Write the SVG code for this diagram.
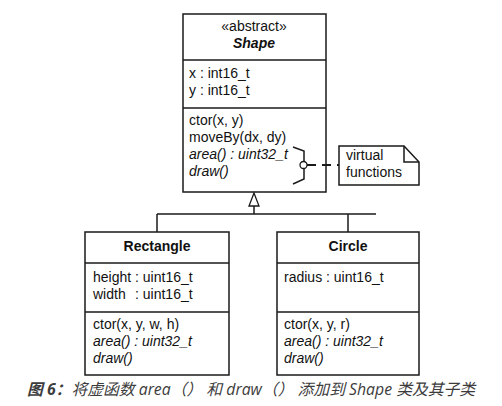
<svg xmlns="http://www.w3.org/2000/svg" width="502" height="406" viewBox="0 0 502 406">
<style>
.box{fill:#fff;stroke:#1a1a1a;stroke-width:1.5}
.ln{stroke:#1a1a1a;stroke-width:1.5;fill:none}
.dash{stroke:#1a1a1a;stroke-width:2.2;fill:none;stroke-dasharray:9,6}
text{font-family:"Liberation Sans",Arial,sans-serif;font-size:14px;fill:#111}
.c{text-anchor:middle}
.b{font-weight:bold}
.i{font-style:italic}
.cap{font-family:"Open Sans","Noto Sans CJK SC",sans-serif;font-size:15.8px;font-style:italic;fill:#3c3c3c}
</style>
<rect width="502" height="406" fill="#fff"/>
<g id="Shape">
<rect class="box" x="183" y="14" width="143" height="178"/>
<line class="ln" x1="183" y1="60" x2="326" y2="60"/>
<line class="ln" x1="183" y1="108" x2="326" y2="108"/>
<text class="c" x="254" y="31">«abstract»</text>
<text class="c b i" x="254" y="48">Shape</text>
<text x="189" y="78">x : int16_t</text>
<text x="189" y="95">y : int16_t</text>
<text x="189" y="125">ctor(x, y)</text>
<text x="189" y="142">moveBy(dx, dy)</text>
<text class="i" x="189" y="159">area() : uint32_t</text>
<text class="i" x="189" y="176">draw()</text>
<polyline class="ln" points="293,147 304,151 304,179 293,184"/>
</g>
<g id="note">
<polygon class="box" points="339,146 404,146 419,162 419,185 339,185"/>
<polyline class="ln" points="404,146 404,162 419,162"/>
<text x="346" y="160">virtual</text>
<text x="346" y="177">functions</text>
</g>
<g id="Rectangle">
<rect class="box" x="85" y="232" width="144" height="143"/>
<line class="ln" x1="85" y1="263" x2="229" y2="263"/>
<line class="ln" x1="85" y1="312" x2="229" y2="312"/>
<text class="c b" x="157" y="251">Rectangle</text>
<text x="93" y="282">height : uint16_t</text>
<text x="93" y="299">width<tspan x="135">: uint16_t</tspan></text>
<text x="93" y="329">ctor(x, y, w, h)</text>
<text class="i" x="93" y="346">area() : uint32_t</text>
<text class="i" x="93" y="363">draw()</text>
</g>
<g id="Circle">
<rect class="box" x="277" y="232" width="142" height="143"/>
<line class="ln" x1="277" y1="263" x2="419" y2="263"/>
<line class="ln" x1="277" y1="312" x2="419" y2="312"/>
<text class="c b" x="348" y="251">Circle</text>
<text x="284" y="282">radius : uint16_t</text>
<text x="284" y="329">ctor(x, y, r)</text>
<text class="i" x="284" y="346">area() : uint32_t</text>
<text class="i" x="284" y="363">draw()</text>
</g>
<g id="connectors">
<polygon points="254,193 249,206 259,206" fill="#fff" stroke="#1a1a1a" stroke-width="1.3"/>
<line class="ln" x1="254" y1="206" x2="254" y2="214"/>
<line class="ln" x1="157" y1="214" x2="376" y2="214"/>
<line class="ln" x1="157" y1="214" x2="157" y2="232"/>
<line class="ln" x1="348" y1="214" x2="348" y2="232"/>
<line class="dash" x1="307" y1="165" x2="339" y2="165"/>
<circle cx="303.5" cy="165" r="3.5" fill="#fff" stroke="#1a1a1a" stroke-width="1.3"/>
</g>
<text class="cap" x="27" y="395"><tspan font-weight="bold">图 6：</tspan>将虚函数 area（） 和 draw（） 添加到 Shape 类及其子类</text>
</svg>
